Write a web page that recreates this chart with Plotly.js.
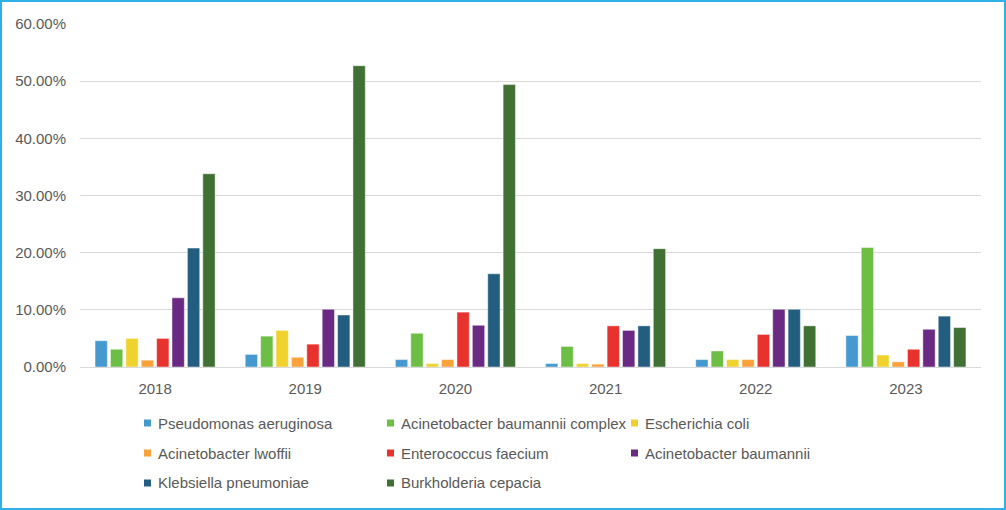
<!DOCTYPE html>
<html><head><meta charset="utf-8">
<script src="https://cdn.plot.ly/plotly-3.0.1.min.js"></script>
<style>
html,body{margin:0;padding:0;background:#fff;}
#wrap{width:1006px;height:510px;box-sizing:border-box;border:2px solid #2fb0e6;overflow:hidden;}
#chart{width:1002px;height:506px;}
</style></head>
<body><div id="wrap"><div id="chart"></div></div>
<script>
const years = ['2018','2019','2020','2021','2022','2023'];
const seriesNames = ['Pseudomonas aeruginosa','Acinetobacter baumannii complex','Escherichia coli','Acinetobacter lwoffii','Enterococcus faecium','Acinetobacter baumannii','Klebsiella pneumoniae','Burkholderia cepacia'];
const pseudomonas = [4.6, 2.2, 1.3, 0.6, 1.3, 5.5];
const abComplex   = [3.1, 5.4, 5.9, 3.6, 2.8, 20.9];
const ecoli       = [5.0, 6.4, 0.6, 0.6, 1.3, 2.1];
const lwoffii     = [1.2, 1.7, 1.3, 0.5, 1.3, 0.9];
const faecium     = [5.0, 4.0, 9.6, 7.2, 5.7, 3.1];
const baumannii   = [12.1, 10.1, 7.3, 6.4, 10.1, 6.6];
const klebsiella  = [20.8, 9.1, 16.3, 7.2, 10.1, 8.9];
const burkholderia= [33.8, 52.7, 49.4, 20.7, 7.2, 6.9];
const seriesValues = [pseudomonas, abComplex, ecoli, lwoffii, faecium, baumannii, klebsiella, burkholderia];
const colors = ['#4599cf','#6dbe45','#f0d22e','#f9a13a','#e8322e','#6a2a84','#235e80','#417035'];
const yTicks = [0,10,20,30,40,50,60];

const traces = seriesNames.map((n,i)=>({
  type:'bar', name:n, x:years, y:seriesValues[i].map(v=>v/100),
  marker:{color:colors[i], line:{color:'rgba(255,255,255,0.45)', width:1}},
  hoverinfo:'x+y+name'
}));

// Plot area geometry (chart-div pixels)
const W = 1002, H = 506, mL = 78, mR = 23, mT = 22, mB = 141;
const pw = W - mL - mR, ph = H - mT - mB;
const px = x => (x - mL) / pw;           // pixel -> paper x
const py = y => (H - mB - y) / ph;       // pixel -> paper y
// legend layout (pixels in chart div)
const legColMarker = [142, 385, 629];
const legRowY = [421, 451, 481];
const sq = 7, txtGap = 6;

const shapes = [], annotations = [];
seriesNames.forEach((n,i)=>{
  const c = i % 3, r = Math.floor(i / 3);
  const x0 = legColMarker[c], yc = legRowY[r];
  shapes.push({type:'rect', xref:'paper', yref:'paper', x0:px(x0), x1:px(x0+sq), y0:py(yc+sq/2), y1:py(yc-sq/2), fillcolor:colors[i], line:{width:0}});
  annotations.push({xref:'paper', yref:'paper', x:px(x0+sq+txtGap), y:py(yc), xanchor:'left', yanchor:'middle', text:n, showarrow:false, borderpad:0, font:{size:15, color:'#595959'}});
});

const layout = {
  width:W, height:H,
  margin:{l:mL, r:mR, t:mT, b:mB},
  paper_bgcolor:'#fff', plot_bgcolor:'#fff',
  font:{family:'Liberation Sans, Arial, sans-serif', size:15, color:'#595959'},
  barmode:'group', bargap:0.18, bargroupgap:0.2,
  xaxis:{type:'category', showgrid:false, showline:true, linecolor:'#d9d9d9', linewidth:1, ticks:'', ticklabelstandoff:8, tickfont:{size:15,color:'#595959'}},
  yaxis:{range:[0,0.6], tickvals:yTicks.map(v=>v/100), ticktext:yTicks.map(v=>v.toFixed(2)+'%'), showgrid:true, gridcolor:'#d9d9d9', gridwidth:1, zeroline:false, showline:false, ticks:'', ticklabelstandoff:13, tickfont:{size:15,color:'#595959'}},
  showlegend:false,
  shapes:shapes, annotations:annotations
};
Plotly.newPlot('chart', traces, layout, {displayModeBar:false, staticPlot:true});
</script></body></html>
